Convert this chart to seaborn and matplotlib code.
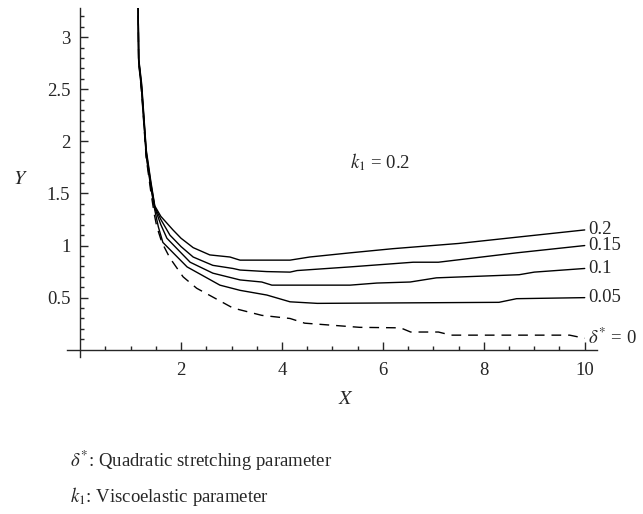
import numpy as np
import pandas as pd
import matplotlib
matplotlib.use("Agg")
import matplotlib.pyplot as plt
import seaborn as sns

# curve data (delta* values, k1 = 0.2)
labels = ["0.2", "0.15", "0.1", "0.05", r"$\delta^{*}$ = 0"]

x_02 = [1.13, 1.15, 1.16, 1.22, 1.31, 1.40, 1.48, 1.6, 1.84, 2.0, 2.24, 2.57, 2.97, 3.1, 3.17, 4.16, 4.55, 5.35, 6.2, 7.5, 8.65, 10.0]
y_02 = [3.6, 3.3, 2.8, 2.55, 1.92, 1.62, 1.38, 1.28, 1.15, 1.07, 0.98, 0.91, 0.89, 0.87, 0.86, 0.86, 0.89, 0.93, 0.97, 1.02, 1.08, 1.15]

x_015 = [1.13, 1.15, 1.16, 1.22, 1.31, 1.40, 1.48, 1.6, 1.78, 2.0, 2.24, 2.63, 3.03, 3.17, 3.7, 4.16, 4.3, 5.35, 6.6, 7.1, 8.65, 10.0]
y_015 = [3.6, 3.3, 2.79, 2.52, 1.90, 1.60, 1.37, 1.25, 1.10, 0.99, 0.89, 0.81, 0.78, 0.765, 0.75, 0.745, 0.76, 0.795, 0.84, 0.84, 0.93, 1.0]

x_01 = [1.13, 1.15, 1.16, 1.22, 1.31, 1.40, 1.48, 1.6, 1.72, 2.18, 2.63, 3.17, 3.6, 3.8, 5.35, 5.88, 6.54, 7.06, 8.7, 9.0, 10.0]
y_01 = [3.6, 3.3, 2.78, 2.5, 1.88, 1.58, 1.36, 1.20, 1.07, 0.84, 0.735, 0.67, 0.65, 0.62, 0.62, 0.64, 0.65, 0.69, 0.72, 0.745, 0.78]

x_005 = [1.13, 1.15, 1.16, 1.22, 1.31, 1.40, 1.48, 1.55, 1.64, 2.12, 2.77, 3.17, 3.7, 4.16, 4.7, 8.3, 8.65, 10.0]
y_005 = [3.6, 3.3, 2.77, 2.48, 1.86, 1.56, 1.34, 1.18, 1.03, 0.795, 0.62, 0.57, 0.525, 0.46, 0.445, 0.455, 0.49, 0.50]

x_0 = [1.13, 1.15, 1.16, 1.22, 1.31, 1.40, 1.47, 1.52, 1.62, 1.78, 2.04, 2.31, 3.03, 3.6, 4.16, 4.45, 5.54, 6.35, 6.55, 7.1, 7.35, 9.7, 10.0]
y_0 = [3.6, 3.3, 2.76, 2.46, 1.84, 1.52, 1.30, 1.18, 1.03, 0.88, 0.70, 0.59, 0.40, 0.33, 0.30, 0.255, 0.215, 0.21, 0.17, 0.17, 0.14, 0.14, 0.11]

curves = [(x_02, y_02), (x_015, y_015), (x_01, y_01), (x_005, y_005), (x_0, y_0)]
styles = ["-", "-", "-", "-", (0, (7, 5))]

sns.set_style("ticks")
plt.rcParams["font.family"] = ["Liberation Serif", "DejaVu Serif"]
plt.rcParams["mathtext.fontset"] = "stix"

fs = 13.5
fig = plt.figure(figsize=(6.43, 5.14), dpi=100)
ax = fig.add_axes([0.1042, 0.3054, 0.824, 0.679])

for (xs, ys), lab, ls in zip(curves, labels, styles):
    df = pd.DataFrame({"x": xs, "y": ys})
    sns.lineplot(data=df, x="x", y="y", ax=ax, color="black", linewidth=1.0,
                 linestyle=ls, sort=False, estimator=None)
    ax.text(xs[-1] + 0.07, ys[-1], lab, ha="left", va="center", fontsize=fs)

ax.set_xlim(-0.26, 10.24)
ax.set_ylim(-0.07, 3.28)

for side in ["top", "right"]:
    ax.spines[side].set_visible(False)
ax.spines["left"].set_position(("data", 0))
ax.spines["bottom"].set_position(("data", 0))
for side in ["left", "bottom"]:
    ax.spines[side].set_linewidth(1.0)

ax.set_xticks([2, 4, 6, 8, 10])
ax.set_xticks(np.arange(0.5, 10.01, 0.5), minor=True)
ax.set_yticks([0.5, 1, 1.5, 2, 2.5, 3])
ax.set_yticklabels(["0.5", "1", "1.5", "2", "2.5", "3"])
ax.set_yticks(np.arange(0.1, 3.25, 0.1), minor=True)
ax.tick_params(which="both", direction="in", labelsize=fs, width=1.0)
ax.tick_params(which="major", length=5.5)
ax.tick_params(which="minor", length=3)
ax.tick_params(axis="x", pad=9)
ax.tick_params(axis="y", pad=7)

ax.set_xlabel("")
ax.set_ylabel("")
fig.text(346 / 643, 1 - 400 / 514, r"$X$", ha="center", va="center", fontsize=14.5)
fig.text(20 / 643, 1 - 179 / 514, r"$Y$", ha="center", va="center", fontsize=14.5)
ax.text(5.94, 1.80, r"$k_1$ = 0.2", ha="center", va="center", fontsize=fs)

fig.text(70 / 643, 1 - 461 / 514, r"$\delta^{*}$: Quadratic stretching parameter",
         ha="left", va="center", fontsize=fs)
fig.text(70 / 643, 1 - 497 / 514, r"$k_1$: Viscoelastic parameter",
         ha="left", va="center", fontsize=fs)

fig.savefig("out.png", dpi=100)
